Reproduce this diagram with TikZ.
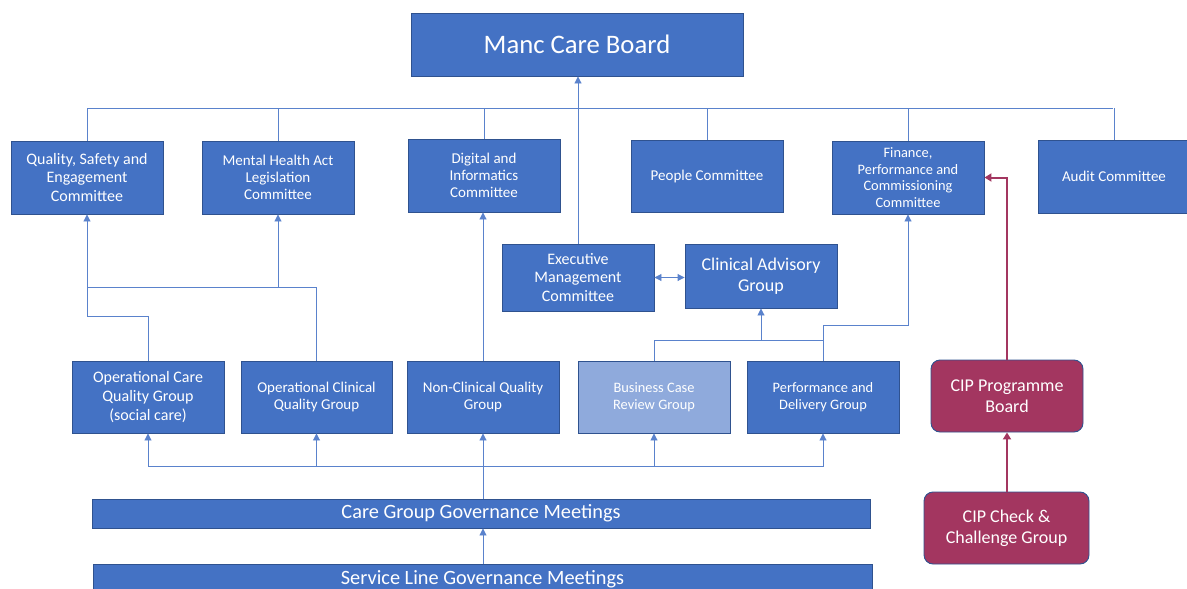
\documentclass[tikz,border=0pt]{standalone}
\usepackage{fontspec}
\setmainfont{Carlito}
\usetikzlibrary{arrows.meta}
\definecolor{boxblue}{HTML}{4472C4}
\definecolor{edgeblue}{HTML}{2F528F}
\definecolor{paleblue}{HTML}{8FAADC}
\definecolor{linkblue}{HTML}{5A82CC}
\definecolor{cipred}{HTML}{A33660}
\tikzset{
  unit/.style={draw=edgeblue, line width=0.9pt, fill=boxblue, text=white,
    align=center, inner sep=2pt},
  cipbox/.style={unit, fill=cipred, rounded corners=9pt},
  f13/.style={font=\fontsize{14.4}{16.5}\selectfont},
  f14/.style={font=\fontsize{15}{16.8}\selectfont},
  f15/.style={font=\fontsize{16}{18.6}\selectfont},
  f17/.style={font=\fontsize{18}{21}\selectfont},
  conn/.style={draw=linkblue, line width=0.9pt},
  arr/.style={conn, -{Triangle[width=7pt,length=7pt]}},
  arrboth/.style={conn, {Triangle[width=7pt,length=7pt]}-{Triangle[width=7pt,length=7pt]}},
  ciparr/.style={draw=cipred, line width=2pt, -{Triangle[width=8pt,length=7pt]}},
}
\begin{document}
\begin{tikzpicture}[x=1pt, y=-1pt]
\useasboundingbox (0,0) rectangle (1187,589);
\clip (0,0) rectangle (1187,589);

% board
\node[unit, minimum width=332, minimum height=63,
  font=\fontsize{26.7}{30}\selectfont] (manc) at (577,44.5) {Manc Care Board};

% committees
\node[unit, f15, minimum width=152, minimum height=73] (qse) at (87,177.5)
  {Quality, Safety and\\Engagement\\Committee};
\node[unit, f14, minimum width=152, minimum height=73] (mha) at (278,177.5)
  {Mental Health Act\\Legislation\\Committee};
\node[unit, f14, minimum width=152, minimum height=73] (dig) at (484,175.5)
  {Digital and\\Informatics\\Committee};
\node[unit, f14, minimum width=152, minimum height=72] (people) at (707,176)
  {People Committee};
\node[unit, f13, minimum width=152, minimum height=73] (fin) at (908,177.5)
  {Finance,\\Performance and\\Commissioning\\Committee};
\node[unit, f14, minimum width=152, minimum height=73] (audit) at (1114,176.5)
  {Audit Committee};

% executive level
\node[unit, f15, minimum width=152, minimum height=67] (emc) at (578,277.5)
  {Executive\\Management\\Committee};
\node[unit, f17, minimum width=152, minimum height=64] (cag) at (761,276)
  {Clinical Advisory\\Group};

% groups
\node[unit, f15, minimum width=152, minimum height=72] (ocs) at (148,397)
  {Operational Care\\Quality Group\\(social care)};
\node[unit, f14, minimum width=151, minimum height=72] (ocl) at (316.5,397)
  {Operational Clinical\\Quality Group};
\node[unit, f14, minimum width=152, minimum height=72] (ncq) at (483,397)
  {Non-Clinical Quality\\Group};
\node[unit, f13, fill=paleblue, minimum width=152, minimum height=72] (bcr) at (654,397)
  {Business Case\\Review Group};
\node[unit, f13, minimum width=152, minimum height=72] (pdg) at (823,397)
  {Performance and\\Delivery Group};

% meetings
\node[unit, font=\fontsize{20.3}{23}\selectfont, minimum width=778, minimum height=29] (cggm) at (481,513.5)
  {Care Group Governance Meetings};
\node[unit, font=\fontsize{20.3}{23}\selectfont, minimum width=779, minimum height=29] (slgm) at (482.5,579)
  {Service Line Governance Meetings};

% CIP
\node[cipbox, f17, minimum width=152, minimum height=72] (cippb) at (1007,396)
  {CIP Programme\\Board};
\node[cipbox, f17, minimum width=165, minimum height=72] (cipcc) at (1006.5,528)
  {CIP Check \&\\Challenge Group};

% junction points
\coordinate (busL) at (87,108);
\coordinate (busR) at (1113,108);
\coordinate (jq) at (87,287);
\coordinate (js) at (87,316);
\coordinate (jc) at (761,340);
\coordinate (jf) at (908,325);
\coordinate (jb) at (483,466);

% committees to board
\draw[conn] (busL) -- (busR);
\draw[conn] (qse.north) -- (qse.north |- busL);
\draw[conn] (mha.north) -- (mha.north |- busL);
\draw[conn] (dig.north) -- (dig.north |- busL);
\draw[conn] (people.north) -- (people.north |- busL);
\draw[conn] (fin.north) -- (fin.north |- busL);
\draw[conn] (audit.north) -- (audit.north |- busL);
\draw[arr] (emc.north) -- (emc.north |- manc.south);

% groups to committees
\draw[arr] (ocl.north) |- (jq) -- (qse.south);
\draw[arr] (mha.south |- jq) -- (mha.south);
\draw[conn] (ocs.north) |- (js) -- (jq);
\draw[arr] (ncq.north) -- (ncq.north |- dig.south);
\draw[arr] (bcr.north) |- (jc) -- (cag.south);
\draw[conn] (pdg.north) |- (jc);
\draw[arr] (pdg.north) |- (jf) -- (fin.south);
\draw[arrboth] (emc.east) -- (emc.east -| cag.west);

% meetings to groups
\draw[arr] (ncq.south |- cggm.north) -- (ncq.south);
\draw[arr] (jb) -| (ocs.south);
\draw[arr] (jb) -| (ocl.south);
\draw[arr] (jb) -| (bcr.south);
\draw[arr] (jb) -| (pdg.south);
\draw[arr] (ncq.south |- slgm.north) -- (ncq.south |- cggm.south);

% CIP chain
\draw[ciparr] (cippb.north) |- (fin.east);
\draw[ciparr] (cippb.south |- cipcc.north) -- (cippb.south);
\end{tikzpicture}
\end{document}
